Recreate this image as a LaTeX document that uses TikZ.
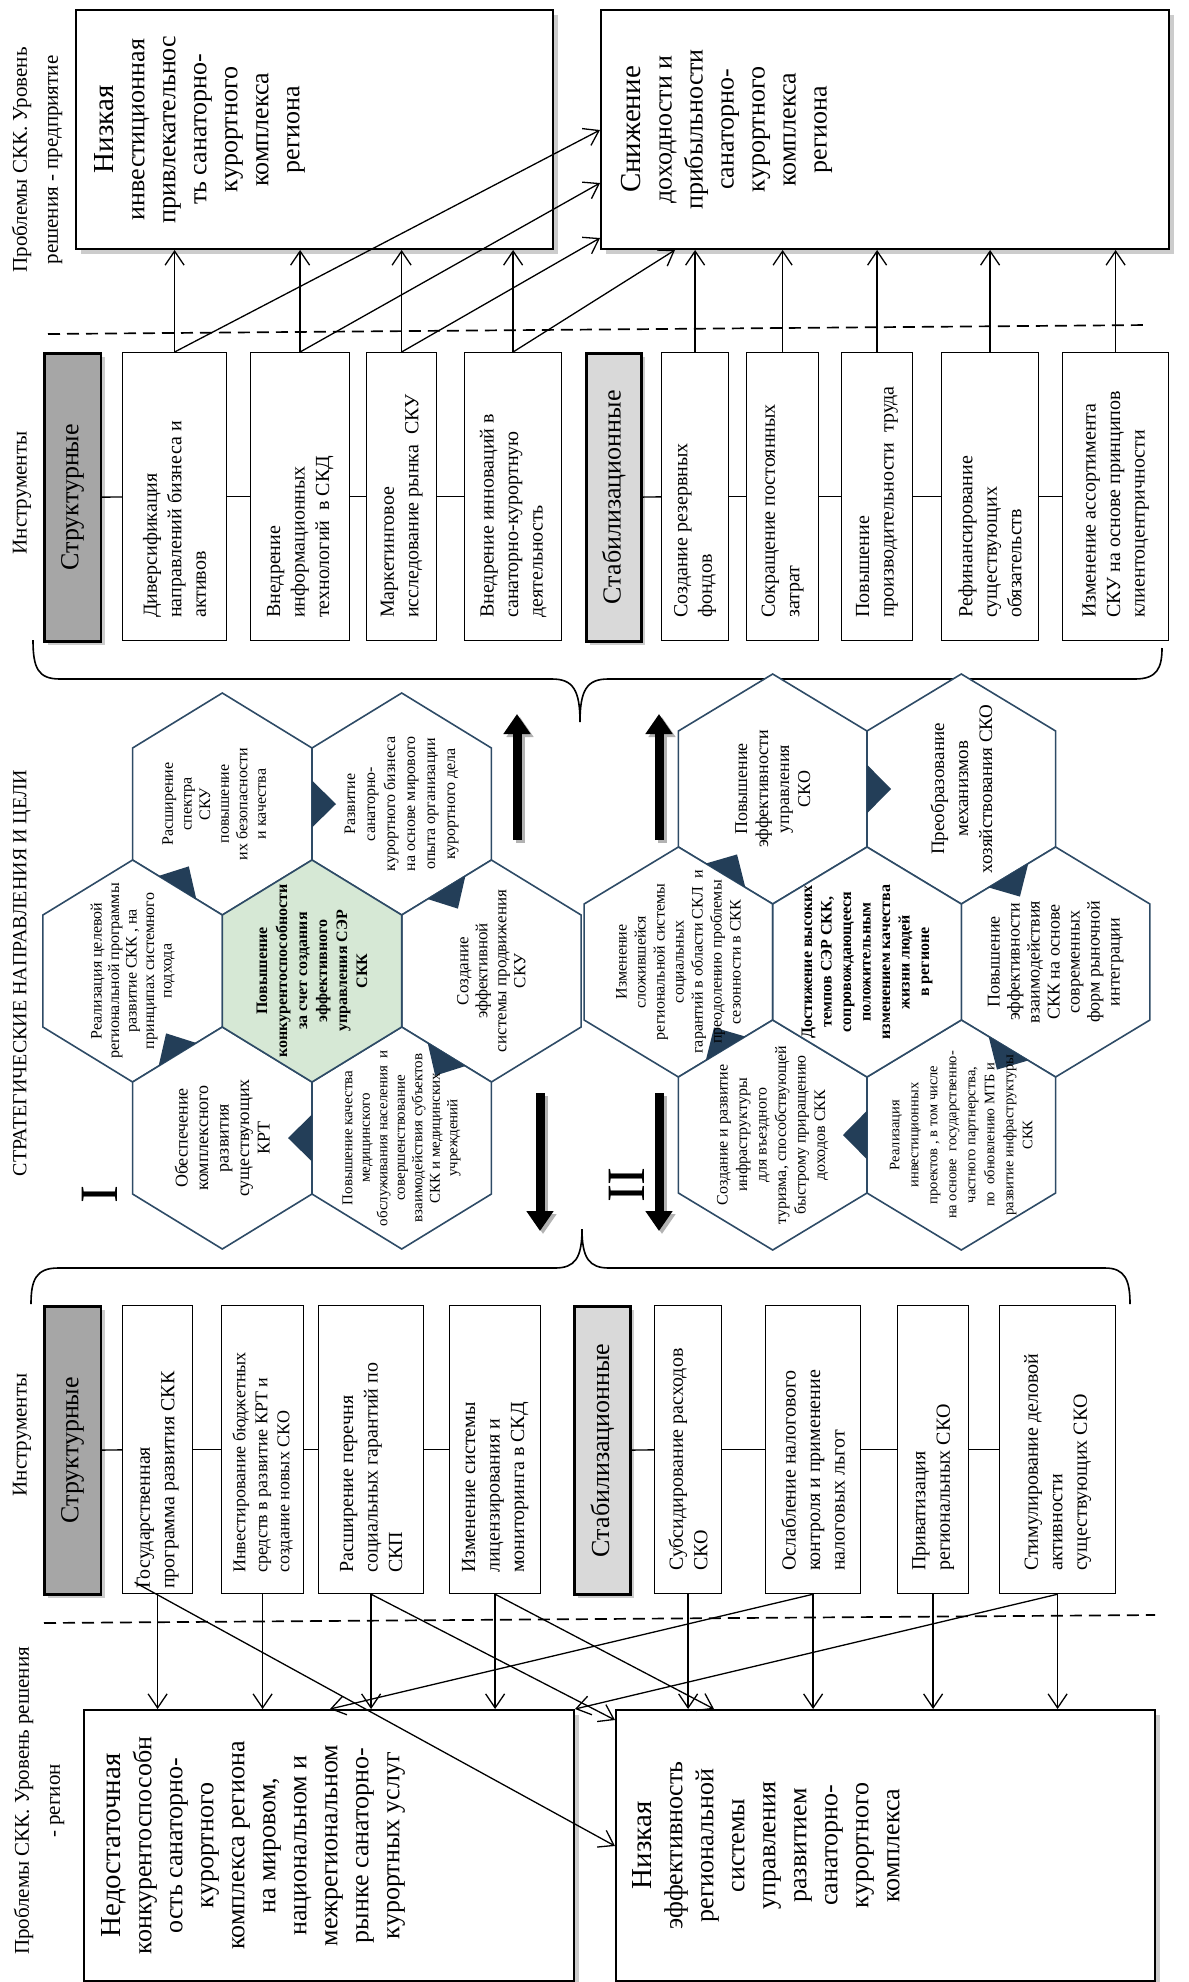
\documentclass[tikz,border=0pt]{standalone}
\usepackage{fontspec}
\setmainfont{Liberation Serif}
\usetikzlibrary{arrows.meta,calc,shadows}

\definecolor{hexline}{HTML}{2E4B66}
\definecolor{hexptr}{HTML}{233E58}
\definecolor{hexgreen}{HTML}{D6E8D5}
\definecolor{catdark}{HTML}{A6A6A6}
\definecolor{catlight}{HTML}{D9D9D9}

\newcommand{\fsz}[2]{\fontsize{#1pt}{#2pt}\selectfont}
% hexagon geometry: half width, circumradius, half side
\newcommand{\hexw}{89.7}
\newcommand{\hexr}{111}
\newcommand{\hexs}{56}

% pointy-top hexagon with named centre and corners #1-1 ... #1-6 (clockwise from top)
\newcommand{\hexcell}[4]{%
  \coordinate (#1) at (#2,#3);
  \coordinate (#1-1) at ({#2},{#3-\hexr});
  \coordinate (#1-2) at ({#2+\hexw},{#3-\hexs});
  \coordinate (#1-3) at ({#2+\hexw},{#3+\hexs});
  \coordinate (#1-4) at ({#2},{#3+\hexr});
  \coordinate (#1-5) at ({#2-\hexw},{#3+\hexs});
  \coordinate (#1-6) at ({#2-\hexw},{#3-\hexs});
  \draw[hexcellst,#4] (#1-1) -- (#1-2) -- (#1-3) -- (#1-4) -- (#1-5) -- (#1-6) -- cycle;}

% small dark triangle on a shared edge, pointing into the next cell
\newcommand{\hexpointer}[3]{%
  \coordinate (pm) at ($(#1)!0.5!(#2)$);
  \fill[hexptr] ($(#1)!0.29!(#2)$) -- ($(#1)!0.71!(#2)$) -- ($(pm)!12pt!(#3)$) -- cycle;}

\begin{document}
\begin{tikzpicture}[x=0.5pt,y=-0.5pt,
  prob/.style={draw, line width=1pt, fill=white, inner sep=0pt, anchor=north west,
    drop shadow={opacity=0.4, shadow xshift=2.5pt, shadow yshift=-2.5pt}},
  tool/.style={draw, line width=0.6pt, fill=white, inner sep=0pt, anchor=north west, minimum height=144pt},
  cat/.style={draw, line width=1.3pt, inner sep=0pt, anchor=north west, minimum height=144pt,
    drop shadow={opacity=0.4, shadow xshift=2pt, shadow yshift=-2pt}},
  rtext/.style={rotate=90, inner sep=0pt, align=left, anchor=west, font=\fsz{10}{12.25}},
  cattext/.style={rotate=90, inner sep=0pt, align=center, font=\fsz{13}{15}},
  ptext/.style={rotate=90, inner sep=0pt, align=center, anchor=north, font=\fsz{13}{15.5}},
  htext/.style={rotate=90, inner sep=0pt, align=center},
  side/.style={rotate=90, inner sep=0pt, align=center, font=\fsz{10.5}{15.5}},
  conn/.style={line width=0.65pt, -{Straight Barb[length=7pt,width=9.5pt]}},
  link/.style={line width=0.7pt},
  hexcellst/.style={draw=hexline, line width=0.8pt, fill=white},
  bigarrow/.style={line width=4.5pt, -{Triangle[length=10pt,width=13pt]}},
  bigshadow/.style={line width=4.5pt, draw=black!30, -{Triangle[length=10pt,width=13pt]}},
  cut/.style={dashed, dash pattern=on 6pt off 3.5pt, line width=0.85pt},
  brace/.style={line width=0.8pt},
]
\useasboundingbox (0,0) rectangle (1189,1982);

% ---------- problem boxes ----------
\node[prob, minimum width=238.5pt, minimum height=119.5pt] (A) at (75,9) {};
\node[prob, minimum width=284pt, minimum height=119.5pt] (B) at (600,9) {};
\node[prob, minimum width=245pt, minimum height=135.5pt] (C) at (83,1709) {};
\node[prob, minimum width=269.5pt, minimum height=135.5pt] (D) at (615,1709) {};

\node[ptext] (At) at ($(A.west)+(19,0)$) {{\fsz{14.5}{15.5}Низкая}\\инвестиционная\\привлекательнос\\ть санаторно-\\курортного\\комплекса\\региона};
\node[ptext] (Bt) at ($(B.west)+(21,0)$) {{\fsz{14.5}{15.5}Снижение}\\доходности и\\прибыльности\\санаторно-\\курортного\\комплекса\\региона};
\node[ptext] (Ct) at ($(C.west)+(18,0)$) {{\fsz{14.5}{15.5}Недостаточная}\\конкурентоспособн\\ость санаторно-\\курортного\\комплекса региона\\на мировом,\\национальном и\\межрегиональном\\рынке санаторно-\\курортных услуг};
\node[ptext] (Dt) at ($(D.west)+(17,0)$) {{\fsz{14.5}{15.5}Низкая}\\эффективность\\региональной\\системы\\управления\\развитием\\санаторно-\\курортного\\комплекса};

% ---------- enterprise-level instruments ----------
\node[cat, fill=catdark, minimum width=28.25pt] (S1) at (43,352) {};
\node[cattext] (S1t) at (S1) {Структурные};
\node[tool, minimum width=52pt] (t1) at (122,352) {};
\node[tool, minimum width=49.5pt] (t2) at (250,352) {};
\node[tool, minimum width=35pt] (t3) at (366,352) {};
\node[tool, minimum width=48.5pt] (t4) at (464,352) {};
\node[cat, fill=catlight, minimum width=27.5pt] (S2) at (585,352) {};
\node[cattext] (S2t) at (S2) {Стабилизационные};
\node[tool, minimum width=33.5pt] (t5) at (661,352) {};
\node[tool, minimum width=36pt] (t6) at (746,352) {};
\node[tool, minimum width=35.5pt] (t7) at (841,352) {};
\node[tool, minimum width=48.5pt] (t8) at (941,352) {};
\node[tool, minimum width=53pt] (t9) at (1062,352) {};

\node[rtext] (t1t) at ($(t1.south)+(0,-23)$) {Диверсификация\\направлений бизнеса и\\активов};
\node[rtext] (t2t) at ($(t2.south)+(0,-23)$) {Внедрение\\информационных\\технологий \ в СКД};
\node[rtext] (t3t) at ($(t3.south)+(0,-23)$) {Маркетинговое\\исследование рынка \ СКУ};
\node[rtext] (t4t) at ($(t4.south)+(0,-23)$) {Внедрение инноваций в\\санаторно-курортную\\деятельность};
\node[rtext] (t5t) at ($(t5.south)+(0,-23)$) {Создание резервных\\фондов};
\node[rtext] (t6t) at ($(t6.south)+(0,-23)$) {Сокращение постоянных\\затрат};
\node[rtext] (t7t) at ($(t7.south)+(0,-23)$) {Повышение\\производительности \ труда};
\node[rtext] (t8t) at ($(t8.south)+(0,-23)$) {Рефинансирование\\существующих\\обязательств};
\node[rtext] (t9t) at ($(t9.south)+(0,-23)$) {Изменение ассортимента\\СКУ на основе принципов\\клиентоцентричности};

\draw[link] (S1) -- (t1);
\draw[link] (t1) -- (t2);
\draw[link] (t2) -- (t3);
\draw[link] (t3) -- (t4);
\draw[link] (S2) -- (t5);
\draw[link] (t5) -- (t6);
\draw[link] (t6) -- (t7);
\draw[link] (t7) -- (t8);
\draw[link] (t8) -- (t9);

% ---------- region-level instruments ----------
\node[cat, fill=catdark, minimum width=28.25pt] (S3) at (43,1305) {};
\node[cattext] (S3t) at (S3) {Структурные};
\node[tool, minimum width=35pt] (b1) at (122,1305) {};
\node[tool, minimum width=41pt] (b2) at (221,1305) {};
\node[tool, minimum width=52.5pt] (b3) at (318,1305) {};
\node[tool, minimum width=45.5pt] (b4) at (449,1305) {};
\node[cat, fill=catlight, minimum width=28pt] (S4) at (573,1305) {};
\node[cattext] (S4t) at (S4) {Стабилизационные};
\node[tool, minimum width=33.5pt] (b5) at (654,1305) {};
\node[tool, minimum width=47.5pt] (b6) at (765,1305) {};
\node[tool, minimum width=35.5pt] (b7) at (897,1305) {};
\node[tool, minimum width=58pt] (b8) at (999,1305) {};

\node[rtext] (b1t) at ($(b1.south)+(0,-5)$) {Государственная\\программа развития СКК};
\node[rtext, font=\fsz{9}{11}] (b2t) at ($(b2.south)+(0,-21)$) {Инвестирование бюджетных\\средств в развитие КРТ и\\создание новых СКО};
\node[rtext] (b3t) at ($(b3.south)+(0,-21)$) {Расширение перечня\\социальных гарантий по\\СКП};
\node[rtext] (b4t) at ($(b4.south)+(0,-21)$) {Изменение системы\\лицензирования и\\мониторинга в СКД};
\node[rtext] (b5t) at ($(b5.south)+(0,-23)$) {Субсидирование расходов\\СКО};
\node[rtext] (b6t) at ($(b6.south)+(0,-23)$) {Ослабление налогового\\контроля и применение\\налоговых льгот};
\node[rtext] (b7t) at ($(b7.south)+(0,-23)$) {Приватизация\\региональных СКО};
\node[rtext] (b8t) at ($(b8.south)+(0,-23)$) {Стимулирование деловой\\активности\\существующих СКО};

\draw[link] (S3) -- (b1);
\draw[link] (b1) -- (b2);
\draw[link] (b2) -- (b3);
\draw[link] (b3) -- (b4);
\draw[link] (S4) -- (b5);
\draw[link] (b5) -- (b6);
\draw[link] (b6) -- (b7);
\draw[link] (b7) -- (b8);

% ---------- connectors: enterprise level ----------
\draw[conn] (t1.north) -- (t1.north |- A.south);
\draw[conn] (t2.north) -- (t2.north |- A.south);
\draw[conn] (t3.north) -- (t3.north |- A.south);
\draw[conn] (t4.north) -- (t4.north |- A.south);
\draw[conn] (t1.north) -- ($(B.north west)+(0,121)$);
\draw[conn] (t2.north) -- ($(B.north west)+(0,174)$);
\draw[conn] (t3.north) -- ($(B.north west)+(0,229)$);
\draw[conn] (t4.north) -- ($(B.south west)+(75,0)$);
\draw[conn] (t5.north) -- (t5.north |- B.south);
\draw[conn] (t6.north) -- (t6.north |- B.south);
\draw[conn] (t7.north) -- (t7.north |- B.south);
\draw[conn] (t8.north) -- (t8.north |- B.south);
\draw[conn] (t9.north) -- (t9.north |- B.south);

% ---------- connectors: region level ----------
\draw[conn] (b1.south) -- (b1.south |- C.north);
\draw[conn] (b2.south) -- (b2.south |- C.north);
\draw[conn] (b3.south) -- (b3.south |- C.north);
\draw[conn] (b4.south) -- (b4.south |- C.north);
\draw[conn] ($(b1.south)+(-23,-12)$) -- ($(D.north west)+(0,137)$);
\draw[conn] (b3.south) -- ($(D.north west)+(0,11)$);
\draw[conn] (b4.south) -- ($(D.north west)+(99,0)$);
\draw[conn] (b5.south) -- (b5.south |- D.north);
\draw[conn] (b6.south) -- (b6.south |- D.north);
\draw[conn] (b7.south) -- (b7.south |- D.north);
\draw[conn] (b8.south) -- (b8.south |- D.north);
\draw[conn] (b6.south) -- ($(C.north west)+(247,0)$);
\draw[conn] (b8.south) -- (C.north east);

% ---------- level separators ----------
\draw[cut] (48,334) -- (1149,325);
\draw[cut] (44,1623) -- (1155,1615);

% ---------- braces ----------
\draw[brace] (33,640) .. controls (33,668) and (38,679) .. (60,679) -- (552,679)
  .. controls (573,679) and (580,690) .. (580,722)
  .. controls (580,690) and (587,679) .. (608,679) -- (1135,679)
  .. controls (1157,679) and (1162,668) .. (1162,648);
\draw[brace] (31,1304) .. controls (31,1280) and (36,1268) .. (58,1268) -- (555,1268)
  .. controls (575,1268) and (582,1258) .. (582,1229)
  .. controls (582,1258) and (589,1268) .. (609,1268) -- (1105,1268)
  .. controls (1125,1268) and (1130,1280) .. (1130,1304);

% ---------- hexagon cluster I ----------
\hexcell{H1}{222.3}{804}{}
\hexcell{H2}{401.7}{804}{}
\hexcell{H6}{132.6}{971}{}
\hexcell{H3}{491.4}{971}{}
\hexcell{H5}{222.3}{1138}{}
\hexcell{H4}{401.7}{1138}{}
\hexcell{H0}{312}{971}{fill=hexgreen}
\hexpointer{H1-2}{H1-3}{H2}
\hexpointer{H2-3}{H2-4}{H3}
\hexpointer{H3-4}{H3-5}{H4}
\hexpointer{H4-5}{H4-6}{H5}
\hexpointer{H5-6}{H5-1}{H6}
\hexpointer{H6-1}{H6-2}{H1}

\node[htext, font=\bfseries\fsz{8}{10}] (H0t) at (H0) {Повышение\\конкурентоспособности\\за счет создания\\эффективного\\управления СЭР\\СКК};
\node[htext, font=\fsz{8}{9.3}] (H1t) at ($(H1)+(-8,0)$) {Расширение\\спектра\\СКУ\\повышение\\их безопасности\\и качества};
\node[htext, font=\fsz{8}{10}] (H2t) at (H2) {Развитие\\санаторно-\\курортного бизнеса\\на основе мирового\\опыта организации\\курортного дела};
\node[htext, font=\fsz{8.5}{9.5}] (H3t) at (H3) {Создание\\эффективной\\системы продвижения\\СКУ};
\node[htext, font=\fsz{7.5}{8.75}] (H4t) at (H4) {Повышение качества\\медицинского\\обслуживания населения \ и\\совершенствование\\взаимодействия субъектов\\СКК и медицинских\\учреждений};
\node[htext, font=\fsz{9}{10.25}] (H5t) at (H5) {Обеспечение\\комплексного\\развития\\существующих\\КРТ};
\node[htext, font=\fsz{8}{8.75}] (H6t) at (H6) {Реализация целевой\\региональной программы\\развитие СКК , на\\принципах системного\\подхода};

% ---------- hexagon cluster II ----------
\renewcommand{\hexw}{94.3}
\renewcommand{\hexr}{115}
\renewcommand{\hexs}{58}
\hexcell{K1}{772.7}{789}{}
\hexcell{K2}{961.3}{789}{}
\hexcell{K6}{678.4}{962}{}
\hexcell{K3}{1055.6}{962}{}
\hexcell{K5}{772.7}{1135}{}
\hexcell{K4}{961.3}{1135}{}
\hexcell{K0}{867}{962}{}
\hexpointer{K1-2}{K1-3}{K2}
\hexpointer{K2-3}{K2-4}{K3}
\hexpointer{K3-4}{K3-5}{K4}
\hexpointer{K4-5}{K4-6}{K5}
\hexpointer{K5-6}{K5-1}{K6}
\hexpointer{K6-1}{K6-2}{K1}

\node[htext, font=\bfseries\fsz{8}{9.75}] (K0t) at (K0) {Достижение высоких\\темпов СЭР СКК,\\сопровождающееся\\положительным\\изменением качества\\жизни людей\\в регионе};
\node[htext, font=\fsz{9}{10.5}] (K1t) at (K1) {Повышение\\эффективности\\управления\\СКО};
\node[htext, font=\fsz{9.5}{12}] (K2t) at (K2) {Преобразование\\механизмов\\хозяйствования СКО};
\node[htext, font=\fsz{9}{10}] (K3t) at (K3) {Повышение\\эффективности\\взаимодействия\\СКК на основе\\современных\\форм рыночной\\интеграции};
\node[htext, font=\fsz{7.25}{9.5}] (K4t) at (K4) {Реализация\\инвестиционных\\проектов , в том числе\\на основе \ государственно-\\частного партнерства,\\по \ обновлению МТБ и\\развитие инфраструктуры\\СКК};
\node[htext, font=\fsz{8}{9.75}] (K5t) at (K5) {Создание и развитие\\инфраструктуры\\для въездного\\туризма, способствующей\\быстрому приращению\\доходов СКК};
\node[htext, font=\fsz{8}{9.5}] (K6t) at (K6) {Изменение\\сложившейся\\региональной системы\\социальных\\гарантий в области СКЛ \ и\\преодолению проблемы\\сезонности в СКК};

% ---------- direction arrows ----------
\coordinate (uI0) at (517,840);  \coordinate (uI1) at (517,714);
\coordinate (dI0) at (540,1093); \coordinate (dI1) at (540,1231);
\coordinate (uII0) at (659,840); \coordinate (uII1) at (659,714);
\coordinate (dII0) at (659,1093); \coordinate (dII1) at (659,1231);
\draw[bigshadow] ($(uI0)+(3,3)$) -- ($(uI1)+(3,3)$);
\draw[bigshadow] ($(dI0)+(3,3)$) -- ($(dI1)+(3,3)$);
\draw[bigshadow] ($(uII0)+(3,3)$) -- ($(uII1)+(3,3)$);
\draw[bigshadow] ($(dII0)+(3,3)$) -- ($(dII1)+(3,3)$);
\draw[bigarrow] (uI0) -- (uI1);
\draw[bigarrow] (dI0) -- (dI1);
\draw[bigarrow] (uII0) -- (uII1);
\draw[bigarrow] (dII0) -- (dII1);

\node[rotate=90, inner sep=0pt, font=\fsz{27}{27}] (romI) at (100,1194) {I};
\node[rotate=90, inner sep=0pt, font=\fsz{27}{27}] (romII) at (627,1185) {II};

% ---------- side labels ----------
\node[side] (lblTop) at (37,160) {Проблемы СКК. Уровень\\решения - предприятие};
\node[side] (lblTools1) at (22,493) {Инструменты};
\node[side, font=\fsz{10}{12}] (lblGoals) at (22,973) {СТРАТЕГИЧЕСКИЕ НАПРАВЛЕНИЯ И ЦЕЛИ};
\node[side] (lblTools2) at (22,1435) {Инструменты};
\node[side] (lblBot) at (39,1801) {Проблемы СКК. Уровень решения\\- регион};
\end{tikzpicture}
\end{document}
